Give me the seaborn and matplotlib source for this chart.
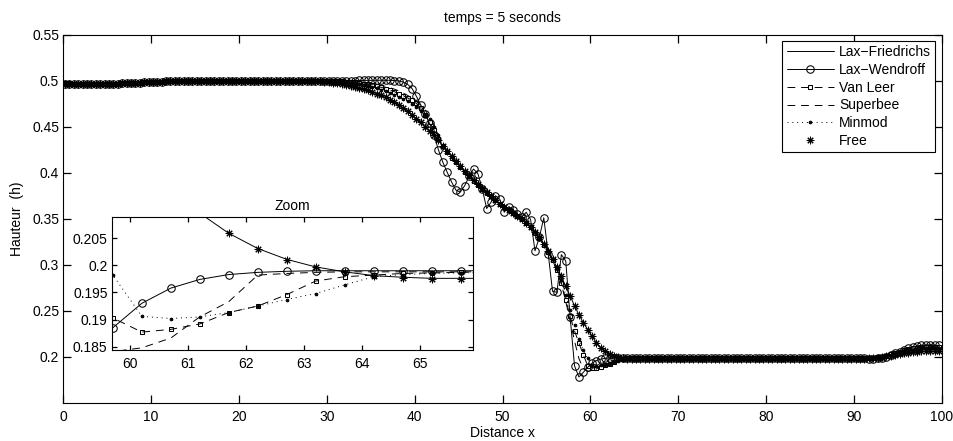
import numpy as np
import pandas as pd
import matplotlib
matplotlib.use("Agg")
import matplotlib.pyplot as plt
import seaborn as sns
from matplotlib.ticker import FormatStrFormatter

# ---------------- data ----------------
# mesh: cell positions, first cell 0.2, spacing 0.5, 200 cells
x_first, dx, n_cells = 0.2, 0.5, 200
x = np.round(x_first + dx * np.arange(n_cells), 2)

# x 0.2 .. 27.7 (shared by every scheme)
h_upstream = [
    0.4962, 0.4962, 0.4962, 0.4963, 0.4963, 0.4963, 0.4964, 0.4964, 0.4965, 0.4966,
    0.4967, 0.4968, 0.4969, 0.4971, 0.4973, 0.4975, 0.4977, 0.4980, 0.4982, 0.4985,
    0.4987, 0.4989, 0.4991, 0.4993, 0.4995, 0.4996, 0.4997, 0.4998, 0.4999, 0.5000,
    0.5000, 0.5000, 0.5000, 0.5000, 0.5000, 0.5000, 0.5000, 0.5000, 0.5000, 0.5000,
    0.5000, 0.5000, 0.5000, 0.5000, 0.5000, 0.5000, 0.5000, 0.5000, 0.5000, 0.5000,
    0.5000, 0.5000, 0.5000, 0.5000, 0.5000, 0.5000,
]

# x 28.2 .. 65.7 (the wave front)
lf_front = [
    0.4998, 0.4996, 0.4993, 0.4989, 0.4984, 0.4978, 0.4971, 0.4963, 0.4954, 0.4944,
    0.4933, 0.4921, 0.4907, 0.4892, 0.4876, 0.4858, 0.4838, 0.4816, 0.4791, 0.4763,
    0.4732, 0.4699, 0.4664, 0.4627, 0.4587, 0.4545, 0.4500, 0.4453, 0.4403, 0.4350,
    0.4294, 0.4236, 0.4179, 0.4124, 0.4071, 0.4019, 0.3969, 0.3921, 0.3874, 0.3829,
    0.3785, 0.3743, 0.3702, 0.3664, 0.3628, 0.3594, 0.3561, 0.3528, 0.3493, 0.3454,
    0.3409, 0.3357, 0.3297, 0.3229, 0.3150, 0.3064, 0.2970, 0.2871, 0.2767, 0.2659,
    0.2554, 0.2455, 0.2370, 0.2295, 0.2222, 0.2150, 0.2096, 0.2059, 0.2031, 0.2011,
    0.1997, 0.1988, 0.1981, 0.1978, 0.1976, 0.1976,
]
lw_front = [
    0.5000, 0.5000, 0.5000, 0.5000, 0.5000, 0.5000, 0.5001, 0.5001, 0.5001, 0.5002,
    0.5002, 0.5003, 0.5003, 0.5004, 0.5004, 0.5005, 0.5005, 0.5005, 0.5004, 0.5002,
    0.4998, 0.4985, 0.4960, 0.4915, 0.4830, 0.4735, 0.4640, 0.4535, 0.4410, 0.4250,
    0.4115, 0.4005, 0.3900, 0.3810, 0.3790, 0.3860, 0.3960, 0.4040, 0.3990, 0.3820,
    0.3610, 0.3680, 0.3750, 0.3710, 0.3570, 0.3630, 0.3600, 0.3550, 0.3520, 0.3570,
    0.3490, 0.3150, 0.3300, 0.3510, 0.3120, 0.2710, 0.2700, 0.3110, 0.3040, 0.2430,
    0.1900, 0.1780, 0.1830, 0.1885, 0.1930, 0.1958, 0.1974, 0.1983, 0.1987, 0.1989,
    0.1990, 0.1990, 0.1990, 0.1990, 0.1990, 0.1990,
]
vl_front = [
    0.5000, 0.5000, 0.4999, 0.4999, 0.4998, 0.4997, 0.4995, 0.4993, 0.4990, 0.4986,
    0.4981, 0.4975, 0.4968, 0.4960, 0.4951, 0.4940, 0.4928, 0.4914, 0.4898, 0.4880,
    0.4860, 0.4838, 0.4813, 0.4785, 0.4753, 0.4700, 0.4630, 0.4550, 0.4460, 0.4370,
    0.4290, 0.4222, 0.4165, 0.4112, 0.4060, 0.4010, 0.3962, 0.3915, 0.3870, 0.3826,
    0.3783, 0.3742, 0.3702, 0.3664, 0.3628, 0.3593, 0.3560, 0.3527, 0.3492, 0.3452,
    0.3405, 0.3350, 0.3288, 0.3218, 0.3140, 0.3050, 0.2940, 0.2800, 0.2620, 0.2440,
    0.2280, 0.2150, 0.2020, 0.1903, 0.1877, 0.1882, 0.1892, 0.1913, 0.1925, 0.1946,
    0.1971, 0.1979, 0.1982, 0.1985, 0.1986, 0.1987,
]
sb_front = [
    0.5000, 0.5000, 0.5000, 0.5000, 0.4999, 0.4999, 0.4998, 0.4997, 0.4995, 0.4993,
    0.4990, 0.4986, 0.4981, 0.4975, 0.4968, 0.4960, 0.4950, 0.4938, 0.4924, 0.4908,
    0.4889, 0.4866, 0.4840, 0.4810, 0.4775, 0.4733, 0.4680, 0.4610, 0.4520, 0.4420,
    0.4320, 0.4235, 0.4172, 0.4115, 0.4062, 0.4012, 0.3963, 0.3917, 0.3872, 0.3828,
    0.3785, 0.3744, 0.3704, 0.3666, 0.3630, 0.3595, 0.3562, 0.3529, 0.3494, 0.3454,
    0.3406, 0.3350, 0.3286, 0.3214, 0.3134, 0.3043, 0.2935, 0.2790, 0.2600, 0.2390,
    0.2170, 0.1980, 0.1870, 0.1841, 0.1848, 0.1866, 0.1905, 0.1933, 0.1982, 0.1985,
    0.1987, 0.1988, 0.1988, 0.1988, 0.1988, 0.1988,
]
mm_front = [
    0.5000, 0.4999, 0.4998, 0.4997, 0.4995, 0.4993, 0.4990, 0.4986, 0.4981, 0.4975,
    0.4968, 0.4960, 0.4951, 0.4941, 0.4929, 0.4916, 0.4902, 0.4886, 0.4868, 0.4848,
    0.4826, 0.4801, 0.4774, 0.4744, 0.4710, 0.4672, 0.4629, 0.4580, 0.4500, 0.4410,
    0.4300, 0.4230, 0.4168, 0.4113, 0.4061, 0.4011, 0.3963, 0.3916, 0.3871, 0.3827,
    0.3784, 0.3743, 0.3703, 0.3665, 0.3629, 0.3594, 0.3561, 0.3528, 0.3493, 0.3453,
    0.3407, 0.3353, 0.3292, 0.3223, 0.3146, 0.3058, 0.2960, 0.2830, 0.2670, 0.2510,
    0.2345, 0.2190, 0.2070, 0.1982, 0.1906, 0.1902, 0.1905, 0.1913, 0.1925, 0.1937,
    0.1948, 0.1964, 0.1979, 0.1983, 0.1985, 0.1986,
]
fr_front = [
    0.4998, 0.4996, 0.4993, 0.4989, 0.4984, 0.4978, 0.4971, 0.4963, 0.4954, 0.4944,
    0.4933, 0.4921, 0.4908, 0.4894, 0.4878, 0.4860, 0.4840, 0.4818, 0.4793, 0.4765,
    0.4734, 0.4701, 0.4666, 0.4629, 0.4589, 0.4547, 0.4502, 0.4455, 0.4405, 0.4351,
    0.4295, 0.4237, 0.4180, 0.4125, 0.4072, 0.4020, 0.3970, 0.3922, 0.3875, 0.3830,
    0.3786, 0.3744, 0.3703, 0.3665, 0.3629, 0.3595, 0.3562, 0.3529, 0.3494, 0.3455,
    0.3410, 0.3358, 0.3298, 0.3230, 0.3150, 0.3065, 0.2970, 0.2872, 0.2768, 0.2660,
    0.2555, 0.2455, 0.2370, 0.2295, 0.2222, 0.2150, 0.2096, 0.2059, 0.2030, 0.2010,
    0.1996, 0.1987, 0.1980, 0.1977, 0.1975, 0.1975,
]

# x 66.2 .. 89.7 (downstream plateau)
lf_plateau = [0.1976, 0.1976, 0.1976, 0.1976, 0.1976, 0.1976, 0.1976, 0.1976, 0.1976, 0.1976, 0.1976, 0.1976,
              0.1976, 0.1976, 0.1976, 0.1976, 0.1976, 0.1976, 0.1976, 0.1976, 0.1976, 0.1976, 0.1976, 0.1976,
              0.1976, 0.1976, 0.1976, 0.1976, 0.1976, 0.1976, 0.1976, 0.1976, 0.1976, 0.1976, 0.1976, 0.1976,
              0.1976, 0.1976, 0.1976, 0.1976, 0.1976, 0.1976, 0.1976, 0.1976, 0.1976, 0.1976, 0.1976, 0.1976]
lw_plateau = [0.1990, 0.1990, 0.1990, 0.1990, 0.1990, 0.1990, 0.1990, 0.1990, 0.1990, 0.1990, 0.1990, 0.1990,
              0.1990, 0.1990, 0.1990, 0.1990, 0.1990, 0.1990, 0.1990, 0.1990, 0.1990, 0.1990, 0.1990, 0.1990,
              0.1990, 0.1990, 0.1990, 0.1990, 0.1990, 0.1990, 0.1990, 0.1990, 0.1990, 0.1990, 0.1990, 0.1990,
              0.1990, 0.1990, 0.1990, 0.1990, 0.1990, 0.1990, 0.1990, 0.1990, 0.1990, 0.1990, 0.1990, 0.1990]
vl_plateau = [0.1988, 0.1988, 0.1988, 0.1988, 0.1988, 0.1988, 0.1988, 0.1988, 0.1988, 0.1988, 0.1988, 0.1988,
              0.1988, 0.1988, 0.1988, 0.1988, 0.1988, 0.1988, 0.1988, 0.1988, 0.1988, 0.1988, 0.1988, 0.1988,
              0.1988, 0.1988, 0.1988, 0.1988, 0.1988, 0.1988, 0.1988, 0.1988, 0.1988, 0.1988, 0.1988, 0.1988,
              0.1988, 0.1988, 0.1988, 0.1988, 0.1988, 0.1988, 0.1988, 0.1988, 0.1988, 0.1988, 0.1988, 0.1988]
sb_plateau = [0.1988, 0.1988, 0.1988, 0.1988, 0.1988, 0.1988, 0.1988, 0.1988, 0.1988, 0.1988, 0.1988, 0.1988,
              0.1988, 0.1988, 0.1988, 0.1988, 0.1988, 0.1988, 0.1988, 0.1988, 0.1988, 0.1988, 0.1988, 0.1988,
              0.1988, 0.1988, 0.1988, 0.1988, 0.1988, 0.1988, 0.1988, 0.1988, 0.1988, 0.1988, 0.1988, 0.1988,
              0.1988, 0.1988, 0.1988, 0.1988, 0.1988, 0.1988, 0.1988, 0.1988, 0.1988, 0.1988, 0.1988, 0.1988]
mm_plateau = [0.1987, 0.1987, 0.1987, 0.1987, 0.1987, 0.1987, 0.1987, 0.1987, 0.1987, 0.1987, 0.1987, 0.1987,
              0.1987, 0.1987, 0.1987, 0.1987, 0.1987, 0.1987, 0.1987, 0.1987, 0.1987, 0.1987, 0.1987, 0.1987,
              0.1987, 0.1987, 0.1987, 0.1987, 0.1987, 0.1987, 0.1987, 0.1987, 0.1987, 0.1987, 0.1987, 0.1987,
              0.1987, 0.1987, 0.1987, 0.1987, 0.1987, 0.1987, 0.1987, 0.1987, 0.1987, 0.1987, 0.1987, 0.1987]
fr_plateau = [0.1975, 0.1975, 0.1975, 0.1975, 0.1975, 0.1975, 0.1975, 0.1975, 0.1975, 0.1975, 0.1975, 0.1975,
              0.1975, 0.1975, 0.1975, 0.1975, 0.1975, 0.1975, 0.1975, 0.1975, 0.1975, 0.1975, 0.1975, 0.1975,
              0.1975, 0.1975, 0.1975, 0.1975, 0.1975, 0.1975, 0.1975, 0.1975, 0.1975, 0.1975, 0.1975, 0.1975,
              0.1975, 0.1975, 0.1975, 0.1975, 0.1975, 0.1975, 0.1975, 0.1975, 0.1975, 0.1975, 0.1975, 0.1975]

# x 90.2 .. 99.7 (bump near the outlet)
lf_outlet = [0.1977, 0.1978, 0.1980, 0.1983, 0.1987, 0.1992, 0.1998, 0.2005, 0.2013, 0.2021,
             0.2029, 0.2037, 0.2044, 0.2050, 0.2055, 0.2059, 0.2061, 0.2062, 0.2062, 0.2061]
lw_outlet = [0.1988, 0.1986, 0.1983, 0.1980, 0.1979, 0.1981, 0.1988, 0.2000, 0.2016, 0.2035,
             0.2055, 0.2074, 0.2092, 0.2106, 0.2117, 0.2125, 0.2129, 0.2130, 0.2127, 0.2122]
vl_outlet = [0.1988, 0.1988, 0.1988, 0.1989, 0.1991, 0.1995, 0.2001, 0.2011, 0.2024, 0.2039,
             0.2054, 0.2068, 0.2080, 0.2090, 0.2098, 0.2104, 0.2107, 0.2108, 0.2107, 0.2105]
sb_outlet = [0.1988, 0.1988, 0.1988, 0.1988, 0.1989, 0.1993, 0.2000, 0.2012, 0.2027, 0.2044,
             0.2061, 0.2076, 0.2089, 0.2099, 0.2107, 0.2112, 0.2115, 0.2116, 0.2115, 0.2113]
mm_outlet = [0.1987, 0.1987, 0.1988, 0.1989, 0.1992, 0.1996, 0.2002, 0.2010, 0.2021, 0.2033,
             0.2046, 0.2058, 0.2069, 0.2078, 0.2085, 0.2090, 0.2093, 0.2094, 0.2093, 0.2091]
fr_outlet = [0.1976, 0.1977, 0.1979, 0.1982, 0.1986, 0.1991, 0.1997, 0.2004, 0.2012, 0.2020,
             0.2028, 0.2036, 0.2043, 0.2049, 0.2054, 0.2058, 0.2060, 0.2061, 0.2061, 0.2060]

schemes = ["Lax\u2212Friedrichs", "Lax\u2212Wendroff", "Van Leer", "Superbee", "Minmod", "Free"]
h_lf = h_upstream + lf_front + lf_plateau + lf_outlet
h_lw = h_upstream + lw_front + lw_plateau + lw_outlet
h_vl = h_upstream + vl_front + vl_plateau + vl_outlet
h_sb = h_upstream + sb_front + sb_plateau + sb_outlet
h_mm = h_upstream + mm_front + mm_plateau + mm_outlet
h_fr = h_upstream + fr_front + fr_plateau + fr_outlet
series = [h_lf, h_lw, h_vl, h_sb, h_mm, h_fr]

df = pd.concat([pd.DataFrame({"x": x, "h": h, "scheme": s}) for s, h in zip(schemes, series)],
               ignore_index=True)

# ---------------- style ----------------
sns.set_theme(style="ticks")
plt.rcParams["font.family"] = ["Liberation Sans", "DejaVu Sans"]
plt.rcParams.update({
    "axes.edgecolor": "black", "axes.linewidth": 0.8,
    "text.color": "black", "axes.labelcolor": "black",
    "font.size": 10,
})

LW = 0.7
dash = (0, (8, 6))
line_styles = {
    "Lax\u2212Friedrichs": dict(linestyle="-"),
    "Lax\u2212Wendroff": dict(linestyle="-", marker="o", markersize=5.4, markerfacecolor="none"),
    "Van Leer": dict(linestyle=dash, marker="s", markersize=3.5, markerfacecolor="none"),
    "Superbee": dict(linestyle=dash),
    "Minmod": dict(linestyle=(0, (1, 4)), marker=".", markersize=3.8),
    "Free": dict(linestyle="none", marker=(8, 2, 0), markersize=5.4),
}


def draw(ax):
    for s in schemes:
        sub = df[df["scheme"] == s]
        kw = dict(line_styles[s])
        sns.lineplot(data=sub, x="x", y="h", ax=ax, color="black", linewidth=LW,
                     markeredgecolor="black", markeredgewidth=0.75,
                     estimator=None, errorbar=None, sort=False, label=s, legend=False, **kw)


def style_ticks(a, length):
    a.tick_params(which="major", direction="in", bottom=True, left=True, top=True, right=True,
                  length=length, width=0.9, colors="black", labelsize=10, pad=4)
    a.tick_params(axis="x", pad=5)
    a.tick_params(axis="y", pad=3)
    for sp in a.spines.values():
        sp.set_visible(True)
        sp.set_color("black")
        sp.set_linewidth(0.8)


fig = plt.figure(figsize=(9.54, 4.41), dpi=100)
ax = fig.add_axes([63.3 / 954, 1 - 402.7 / 441, (941.7 - 63.3) / 954, (402.7 - 34.7) / 441])
draw(ax)
ax.set_xlim(0, 100)
ax.set_ylim(0.15, 0.55)
ax.set_xticks(np.arange(0, 101, 10))
ax.set_yticks([0.2, 0.25, 0.3, 0.35, 0.4, 0.45, 0.5, 0.55])
ax.yaxis.set_major_formatter(FormatStrFormatter("%g"))
style_ticks(ax, 6)
ax.set_title("temps = 5 seconds", fontsize=10, pad=9)
ax.set_xlabel("Distance x", fontsize=10, labelpad=2)
ax.set_ylabel("Hauteur  (h)", fontsize=10, labelpad=6)

handles = ax.lines[:6]
leg = ax.legend(handles, schemes, loc="upper right", fontsize=10, frameon=True,
                fancybox=False, edgecolor="black", framealpha=1, numpoints=1,
                borderaxespad=0.45, handlelength=3.4, handletextpad=0.4,
                labelspacing=0.27, borderpad=0.3)
leg.get_frame().set_linewidth(0.8)

# inset zoom
axz = fig.add_axes([111.7 / 954, 1 - 350 / 441, 361 / 954, 133 / 441])
axz.set_facecolor("white")
draw(axz)
axz.set_xlim(59.68, 65.91)
axz.set_ylim(0.1844, 0.2089)
axz.set_xticks([60, 61, 62, 63, 64, 65])
axz.set_yticks([0.185, 0.19, 0.195, 0.2, 0.205])
axz.yaxis.set_major_formatter(FormatStrFormatter("%g"))
style_ticks(axz, 3.5)
axz.set_xlabel("")
axz.set_ylabel("")
axz.set_title("Zoom", fontsize=10, pad=5)

fig.savefig("out.png", dpi=100)
